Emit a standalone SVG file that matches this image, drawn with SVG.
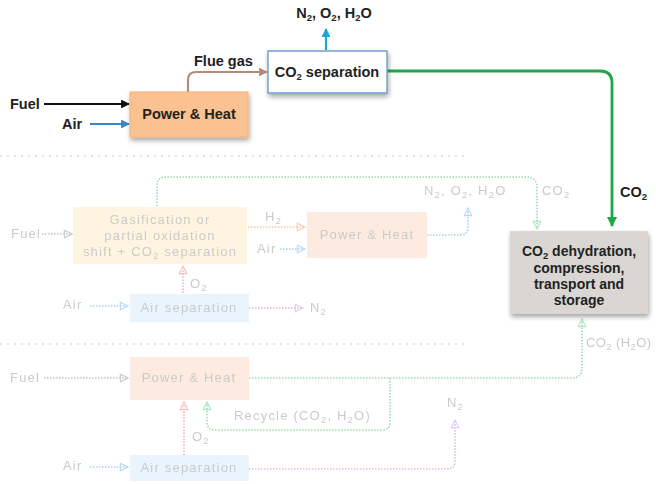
<svg xmlns="http://www.w3.org/2000/svg" width="656" height="484" viewBox="0 0 656 484">
<defs>
<style>
text{font-family:"Liberation Sans",Arial,sans-serif;}
.b{font-weight:bold;font-size:14.5px;fill:#222;}
.bx{font-weight:bold;font-size:14px;fill:#222;}
.f{font-size:13px;fill:#a8a8a8;letter-spacing:1.2px;}
.sub{font-size:9.5px;}
.ln{fill:none;stroke-width:2.2;}
.dl{fill:none;stroke-width:1.6;stroke-dasharray:1.5 1.5;}
.fade{opacity:0.6;}
</style>
<marker id="mk" viewBox="0 0 10 10" refX="9" refY="5" markerWidth="4" markerHeight="4" orient="auto"><path d="M0,0L10,5L0,10z" fill="#111"/></marker>
<marker id="mb" viewBox="0 0 10 10" refX="9" refY="5" markerWidth="4" markerHeight="4" orient="auto"><path d="M0,0L10,5L0,10z" fill="#3a86c8"/></marker>
<marker id="mbr" viewBox="0 0 10 10" refX="9" refY="5" markerWidth="4" markerHeight="4" orient="auto"><path d="M0,0L10,5L0,10z" fill="#b48b78"/></marker>
<marker id="mc" viewBox="0 0 10 10" refX="9" refY="5" markerWidth="4" markerHeight="4" orient="auto"><path d="M0,0L10,5L0,10z" fill="#1aa7e0"/></marker>
<marker id="mg" viewBox="0 0 10 10" refX="9" refY="5" markerWidth="3.6" markerHeight="3.6" orient="auto"><path d="M0,0L10,5L0,10z" fill="#1fa84a"/></marker>
<marker id="fg" viewBox="0 0 10 10" refX="9" refY="5" markerWidth="6" markerHeight="6" orient="auto"><path d="M1,1L9,5L1,9z" fill="none" stroke="#7fd49a" stroke-width="1.2"/></marker>
<marker id="fb" viewBox="0 0 10 10" refX="9" refY="5" markerWidth="6" markerHeight="6" orient="auto"><path d="M1,1L9,5L1,9z" fill="none" stroke="#8cc4ec" stroke-width="1.2"/></marker>
<marker id="fo" viewBox="0 0 10 10" refX="9" refY="5" markerWidth="6" markerHeight="6" orient="auto"><path d="M1,1L9,5L1,9z" fill="none" stroke="#f3b28a" stroke-width="1.2"/></marker>
<marker id="fr" viewBox="0 0 10 10" refX="9" refY="5" markerWidth="6" markerHeight="6" orient="auto"><path d="M1,1L9,5L1,9z" fill="none" stroke="#f09a9a" stroke-width="1.2"/></marker>
<marker id="fp" viewBox="0 0 10 10" refX="9" refY="5" markerWidth="6" markerHeight="6" orient="auto"><path d="M1,1L9,5L1,9z" fill="none" stroke="#c9aee0" stroke-width="1.2"/></marker>
<marker id="fk" viewBox="0 0 10 10" refX="9" refY="5" markerWidth="6" markerHeight="6" orient="auto"><path d="M1,1L9,5L1,9z" fill="none" stroke="#aaa" stroke-width="1.2"/></marker>
<filter id="sh" x="-10%" y="-10%" width="130%" height="140%"><feGaussianBlur in="SourceAlpha" stdDeviation="2.5"/><feOffset dx="1" dy="3"/><feComponentTransfer><feFuncA type="linear" slope="0.35"/></feComponentTransfer><feMerge><feMergeNode/><feMergeNode in="SourceGraphic"/></feMerge></filter>
</defs>
<rect width="656" height="484" fill="#fff"/>

<!-- separators -->
<g id="separators" stroke="#dcdcdc" stroke-width="1.5" stroke-dasharray="2 5" fill="none">
<line x1="0" y1="156" x2="466" y2="156"/>
<line x1="0" y1="344" x2="466" y2="344"/>
</g>

<!-- connectors -->
<g id="connectors">
<line class="ln" x1="44" y1="104" x2="129" y2="104" stroke="#111" marker-end="url(#mk)"/>
<line class="ln" x1="90" y1="124" x2="129" y2="124" stroke="#3a86c8" marker-end="url(#mb)"/>
<path class="ln" d="M188,92V80Q188,72 196,72H267" stroke="#b48b78" marker-end="url(#mbr)"/>
<line class="ln" x1="326" y1="50" x2="326" y2="29" stroke="#1aa7e0" marker-end="url(#mc)"/>
<path d="M387,71H600Q612,71 612,83V226" fill="none" stroke="#1fa84a" stroke-width="2.8" marker-end="url(#mg)"/>

<g class="fade">
<path class="dl" d="M157,206V186Q157,177 166,177H526Q537,177 537,188V229" stroke="#5cc47b" marker-end="url(#fg)"/>
<line class="dl" x1="42" y1="234" x2="72" y2="234" stroke="#999" marker-end="url(#fk)"/>
<line class="dl" x1="248" y1="227" x2="305" y2="227" stroke="#f0a070" marker-end="url(#fo)"/>
<line class="dl" x1="280" y1="249" x2="305" y2="249" stroke="#6aaee0" marker-end="url(#fb)"/>
<path class="dl" d="M427,235H460Q468,235 468,227V208" stroke="#6aaee0" marker-end="url(#fb)"/>
<line class="dl" x1="183" y1="293" x2="183" y2="266" stroke="#ee7f7f" marker-end="url(#fr)"/>
<line class="dl" x1="90" y1="306" x2="128" y2="306" stroke="#6aaee0" marker-end="url(#fb)"/>
<line class="dl" x1="249" y1="308" x2="303" y2="308" stroke="#b98fd6" marker-end="url(#fp)"/>

<line class="dl" x1="44" y1="378" x2="128" y2="378" stroke="#999" marker-end="url(#fk)"/>
<path class="dl" d="M249,378H572Q582,378 582,368V319" stroke="#5cc47b" marker-end="url(#fg)"/>
<path class="dl" d="M390,378V422Q390,430 382,430H215Q207,430 207,422V402" stroke="#5cc47b" marker-end="url(#fg)"/>
<line class="dl" x1="184" y1="455" x2="184" y2="402" stroke="#ee7f7f" marker-end="url(#fr)"/>
<line class="dl" x1="90" y1="467" x2="128" y2="467" stroke="#6aaee0" marker-end="url(#fb)"/>
<path class="dl" d="M249,469H447Q455,469 455,461V420" stroke="#b98fd6" marker-end="url(#fp)"/>
</g>
</g>

<!-- top row nodes -->
<g id="fuel1"><text class="b" x="10" y="109">Fuel</text></g>
<g id="air1"><text class="b" x="62" y="129">Air</text></g>
<g id="powerheat1">
<rect x="130" y="92" width="118" height="45" fill="#f9c290" stroke="#f4b07a" stroke-width="1" filter="url(#sh)"/>
<text class="b" x="189" y="119" text-anchor="middle">Power &amp; Heat</text>
</g>
<g id="fluegas"><text class="b" x="194" y="66">Flue gas</text></g>
<g id="co2sep">
<rect x="268" y="51" width="119" height="42" fill="#fff" stroke="#6ea3d4" stroke-width="1.5" filter="url(#sh)"/>
<text class="b" x="327" y="77" text-anchor="middle">CO<tspan class="sub" dy="3">2</tspan><tspan dy="-3"> separation</tspan></text>
</g>
<g id="n2o2h2o"><text class="b" x="334" y="18" text-anchor="middle">N<tspan class="sub" dy="3">2</tspan><tspan dy="-3">, O</tspan><tspan class="sub" dy="3">2</tspan><tspan dy="-3">, H</tspan><tspan class="sub" dy="3">2</tspan><tspan dy="-3">O</tspan></text></g>
<g id="co2label"><text class="b" x="620" y="197">CO<tspan class="sub" dy="3">2</tspan></text></g>
<g id="storage">
<rect x="510" y="231" width="138" height="83" fill="#dad6d3" filter="url(#sh)"/>
<text class="bx" x="579" y="256" text-anchor="middle">CO<tspan class="sub" dy="2.5">2</tspan><tspan dy="-2.5"> dehydration,</tspan></text>
<text class="bx" x="579" y="273" text-anchor="middle">compression,</text>
<text class="bx" x="579" y="289" text-anchor="middle">transport and</text>
<text class="bx" x="579" y="305" text-anchor="middle">storage</text>
</g>

<!-- middle (faded) -->
<g id="mid" class="fade">
<g id="fuel2"><text class="f" x="11" y="238">Fuel</text></g>
<g id="gasification">
<rect x="73" y="207" width="174" height="57" fill="#fde8b8" opacity="0.7"/>
<text class="f" x="160" y="224" text-anchor="middle">Gasification or</text>
<text class="f" x="160" y="240" text-anchor="middle">partial oxidation</text>
<text class="f" x="160" y="256" text-anchor="middle">shift + CO<tspan class="sub" dy="3">2</tspan><tspan dy="-3"> separation</tspan></text>
</g>
<g id="h2"><text class="f" x="265" y="221">H<tspan class="sub" dy="3">2</tspan></text></g>
<g id="air2"><text class="f" x="257" y="253">Air</text></g>
<g id="powerheat2">
<rect x="307" y="212" width="120" height="46" fill="#fcd2b8" opacity="0.7"/>
<text class="f" x="367" y="239" text-anchor="middle">Power &amp; Heat</text>
</g>
<g id="n2o2h2o2"><text class="f" x="424" y="195">N<tspan class="sub" dy="3">2</tspan><tspan dy="-3">, O</tspan><tspan class="sub" dy="3">2</tspan><tspan dy="-3">, H</tspan><tspan class="sub" dy="3">2</tspan><tspan dy="-3">O</tspan></text></g>
<g id="co2b"><text class="f" x="542" y="195">CO<tspan class="sub" dy="3">2</tspan></text></g>
<g id="o2a"><text class="f" x="190" y="288">O<tspan class="sub" dy="3">2</tspan></text></g>
<g id="air3"><text class="f" x="63" y="309">Air</text></g>
<g id="airsep1">
<rect x="130" y="294" width="119" height="28" fill="#cfe6f8" opacity="0.7"/>
<text class="f" x="189" y="312" text-anchor="middle">Air separation</text>
</g>
<g id="n2a"><text class="f" x="310" y="312">N<tspan class="sub" dy="3">2</tspan></text></g>
</g>

<!-- bottom (faded) -->
<g id="bot" class="fade">
<g id="fuel3"><text class="f" x="10" y="382">Fuel</text></g>
<g id="powerheat3">
<rect x="130" y="357" width="119" height="43" fill="#fcd2b8" opacity="0.7"/>
<text class="f" x="189" y="382" text-anchor="middle">Power &amp; Heat</text>
</g>
<g id="co2h2o"><text class="f" x="586" y="347" style="letter-spacing:0.4px">CO<tspan class="sub" dy="3">2</tspan><tspan dy="-3"> (H</tspan><tspan class="sub" dy="3">2</tspan><tspan dy="-3">O)</tspan></text></g>
<g id="recycle"><text class="f" x="234" y="420">Recycle (CO<tspan class="sub" dy="3">2</tspan><tspan dy="-3">, H</tspan><tspan class="sub" dy="3">2</tspan><tspan dy="-3">O)</tspan></text></g>
<g id="o2b"><text class="f" x="192" y="441">O<tspan class="sub" dy="3">2</tspan></text></g>
<g id="n2b"><text class="f" x="447" y="407">N<tspan class="sub" dy="3">2</tspan></text></g>
<g id="air4"><text class="f" x="63" y="470">Air</text></g>
<g id="airsep2">
<rect x="130" y="455" width="119" height="26" fill="#cfe6f8" opacity="0.7"/>
<text class="f" x="189" y="472" text-anchor="middle">Air separation</text>
</g>
</g>
</svg>
